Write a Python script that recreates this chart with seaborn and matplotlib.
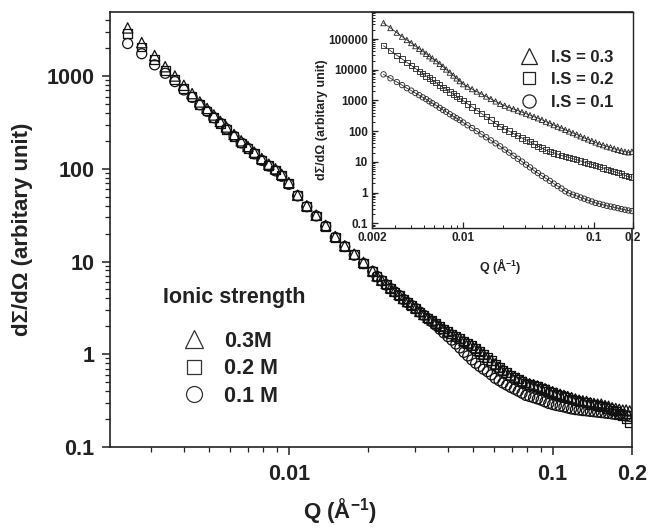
import matplotlib
matplotlib.use('Agg')
import matplotlib.pyplot as plt
from matplotlib.lines import Line2D
from matplotlib.ticker import FixedLocator, FuncFormatter, LogLocator, NullFormatter
import seaborn as sns

# Q (1/Angstrom) for the main panel
q_main = [0.00245, 0.00277, 0.0031, 0.0034, 0.0037, 0.0040, 0.0043, 0.0046, 0.0049, 0.0052,
          0.0055, 0.0058, 0.0062, 0.0066, 0.0070, 0.0074, 0.0079, 0.0084, 0.0089, 0.0094,
          0.0100, 0.0108, 0.0117, 0.0127, 0.0138, 0.0150, 0.0163, 0.0177, 0.0192, 0.0208,
          0.0216, 0.0225, 0.0234, 0.0243, 0.0252, 0.0262, 0.0272, 0.0282, 0.0292, 0.0303,
          0.0314, 0.0325, 0.0337, 0.0349, 0.0361, 0.0374, 0.0387, 0.0401, 0.0415, 0.0430,
          0.0445, 0.0461, 0.0477, 0.0494, 0.0511, 0.0529, 0.0547, 0.0566, 0.0586, 0.0606,
          0.0627, 0.0648, 0.0670, 0.0693, 0.0717, 0.0741, 0.0766, 0.0792, 0.0819, 0.0847,
          0.0876, 0.0905, 0.0936, 0.0967, 0.1000, 0.1033, 0.1068, 0.1104, 0.1141, 0.1180,
          0.1220, 0.1260, 0.1302, 0.1345, 0.1390, 0.1435, 0.1482, 0.1530, 0.1580, 0.1630,
          0.1682, 0.1735, 0.1790, 0.1845, 0.1900, 0.1960]

# main panel, dSigma/dOmega
i_03 = [3300, 2290, 1660, 1260, 1000, 794, 646, 525, 447, 380,
        324, 282, 234, 200, 174, 151, 129, 112, 100, 87,
        71, 52, 40, 31.6, 24.5, 18.6, 14.8, 12.0, 9.8, 7.9,
        7.0, 6.3, 5.8, 5.2, 4.8, 4.4, 4.0, 3.7, 3.45, 3.16,
        2.9, 2.69, 2.5, 2.34, 2.18, 2.04, 1.9, 1.78, 1.68, 1.58,
        1.5, 1.41, 1.33, 1.26, 1.18, 1.10, 1.01, 0.93, 0.86, 0.79,
        0.73, 0.68, 0.64, 0.60, 0.57, 0.55, 0.52, 0.50, 0.48, 0.47,
        0.455, 0.44, 0.425, 0.41, 0.395, 0.38, 0.37, 0.36, 0.35, 0.34,
        0.33, 0.32, 0.315, 0.31, 0.30, 0.295, 0.29, 0.29, 0.28, 0.275,
        0.265, 0.26, 0.255, 0.25, 0.25, 0.245]
i_02 = [2900, 2050, 1500, 1150, 920, 730, 600, 490, 420, 355,
        305, 265, 222, 190, 166, 145, 124, 108, 97, 84,
        69, 51, 39, 31, 24, 18.3, 14.5, 11.8, 9.6, 7.8,
        6.9, 6.2, 5.6, 5.1, 4.7, 4.3, 3.95, 3.65, 3.35, 3.1,
        2.85, 2.65, 2.45, 2.3, 2.15, 2.0, 1.87, 1.75, 1.65, 1.56,
        1.47, 1.38, 1.31, 1.24, 1.16, 1.08, 1.0, 0.92, 0.85, 0.78,
        0.72, 0.67, 0.63, 0.59, 0.56, 0.54, 0.51, 0.49, 0.475, 0.46,
        0.445, 0.43, 0.415, 0.40, 0.385, 0.37, 0.36, 0.35, 0.34, 0.33,
        0.32, 0.31, 0.305, 0.30, 0.29, 0.285, 0.28, 0.275, 0.27, 0.26,
        0.25, 0.245, 0.23, 0.22, 0.20, 0.185]
i_01 = [2240, 1740, 1320, 1070, 870, 708, 589, 490, 417, 355,
        309, 269, 224, 190, 166, 145, 123, 107, 95, 83,
        68, 51, 39, 31, 24, 18.2, 14.5, 11.7, 9.5, 7.8,
        6.9, 6.2, 5.6, 5.1, 4.7, 4.3, 3.9, 3.6, 3.35, 3.1,
        2.85, 2.63, 2.42, 2.24, 2.05, 1.86, 1.7, 1.55, 1.42, 1.29,
        1.17, 1.05, 0.96, 0.87, 0.80, 0.74, 0.69, 0.65, 0.60, 0.55,
        0.52, 0.49, 0.465, 0.44, 0.42, 0.40, 0.38, 0.36, 0.35, 0.34,
        0.33, 0.32, 0.307, 0.295, 0.287, 0.28, 0.275, 0.27, 0.263, 0.257,
        0.253, 0.25, 0.247, 0.245, 0.242, 0.24, 0.237, 0.235, 0.232, 0.23,
        0.227, 0.224, 0.221, 0.219, 0.216, 0.214]

# Q for the inset curves
q_ins = [0.00245, 0.00277, 0.0031, 0.0034, 0.0037, 0.0040, 0.0043, 0.0046, 0.0049, 0.0052,
         0.0055, 0.0058, 0.0062, 0.0066, 0.0070, 0.0074, 0.0079, 0.0084, 0.0089, 0.0094,
         0.0100, 0.0108, 0.0117, 0.0127, 0.0138, 0.0150, 0.0163, 0.0177, 0.0192, 0.0208,
         0.0225, 0.0243, 0.0262, 0.0282, 0.0303, 0.0325, 0.0349, 0.0374, 0.0401, 0.0430,
         0.0461, 0.0494, 0.0529, 0.0566, 0.0606, 0.0648, 0.0693, 0.0741, 0.0792, 0.0847,
         0.0905, 0.0967, 0.1033, 0.1104, 0.1180, 0.1260, 0.1345, 0.1435, 0.1530, 0.1630,
         0.1735, 0.1845, 0.1960]
ins_03 = [331000, 229000, 162000, 120000, 93300, 74100, 58900, 47900, 39800, 33100,
          27500, 23400, 19100, 15500, 12600, 10200, 8100, 6500, 5250, 4270,
          3390, 2820, 2340, 1950, 1620, 1350, 1120, 933, 776, 676,
          589, 525, 468, 417, 372, 331, 295, 263, 234, 204,
          182, 158, 141, 126, 110, 98, 87, 78, 68, 60,
          54, 48, 43, 38, 35, 31.6, 29.5, 26.9, 24.5, 22.9,
          21.4, 20.4, 21.4]
ins_02 = [60300, 41700, 29500, 22400, 17400, 13800, 11000, 8900, 7400, 6300,
          5370, 4570, 3800, 3160, 2690, 2290, 1910, 1620, 1380, 1170,
          977, 776, 617, 479, 372, 295, 229, 178, 141, 117,
          100, 83, 71, 60, 52, 45, 38, 32, 28, 24,
          21.4, 19.5, 17.8, 16.2, 15.1, 13.8, 12.6, 11.7, 10.7, 9.8,
          8.9, 8.3, 7.6, 6.9, 6.3, 5.75, 5.25, 4.8, 4.4, 4.0,
          3.6, 3.3, 3.2]
ins_01 = [7080, 5250, 3980, 3160, 2510, 2090, 1740, 1480, 1260, 1100,
          933, 813, 692, 575, 490, 427, 355, 302, 263, 229,
          191, 155, 126, 100, 79, 63, 50, 40, 32, 25,
          20, 15.8, 12.6, 10.2, 8.1, 6.6, 5.2, 4.3, 3.5, 2.9,
          2.4, 1.95, 1.62, 1.35, 1.10, 0.95, 0.85, 0.78, 0.69, 0.63,
          0.56, 0.51, 0.46, 0.43, 0.40, 0.37, 0.35, 0.33, 0.31, 0.29,
          0.275, 0.26, 0.25]

main_labels = ['0.3M', '0.2 M', '0.1 M']
inset_labels = ['I.S = 0.3', 'I.S = 0.2', 'I.S = 0.1']
main_xticks = [0.01, 0.1, 0.2]
main_yticks = [0.1, 1, 10, 100, 1000]
inset_xticks = [0.002, 0.01, 0.1, 0.2]
inset_yticks = [0.1, 1, 10, 100, 1000, 10000, 100000]

sns.set_style('ticks')
plt.rcParams['font.family'] = ['Liberation Sans', 'DejaVu Sans']
plt.rcParams['font.weight'] = 'bold'
plt.rcParams['axes.labelweight'] = 'bold'
plt.rcParams['mathtext.fontset'] = 'custom'
plt.rcParams['mathtext.rm'] = 'Liberation Sans:bold'
plt.rcParams['mathtext.bf'] = 'Liberation Sans:bold'
plt.rcParams['mathtext.it'] = 'Liberation Sans:bold'

fmt = FuncFormatter(lambda v, p: f'{v:g}')
markers = ['^', 's', 'o']

fig = plt.figure(figsize=(6.48, 5.28), dpi=100)
ax = fig.add_axes([110 / 648, 81 / 528, 522 / 648, 435 / 528])

# main data, open markers
for vals, m, s in [(i_01, 'o', 52), (i_03, '^', 55), (i_02, 's', 40)]:
    sns.scatterplot(x=q_main, y=vals, ax=ax, marker=m, s=s, facecolors='none',
                    edgecolor='#111111', linewidth=0.9, zorder=3)

ax.set_xscale('log')
ax.set_yscale('log')
ax.set_xlim(0.0021, 0.2)
ax.set_ylim(0.1, 4900)
ax.xaxis.set_major_locator(FixedLocator(main_xticks))
ax.yaxis.set_major_locator(FixedLocator(main_yticks))
ax.xaxis.set_major_formatter(fmt)
ax.yaxis.set_major_formatter(fmt)
ax.xaxis.set_minor_locator(LogLocator(base=10, subs=range(2, 10), numticks=20))
ax.yaxis.set_minor_locator(LogLocator(base=10, subs=range(2, 10), numticks=20))
ax.xaxis.set_minor_formatter(NullFormatter())
ax.yaxis.set_minor_formatter(NullFormatter())
ax.tick_params(which='major', direction='out', length=6, width=1.1, labelsize=15.5, colors='#222222')
ax.tick_params(axis='x', which='major', pad=6)
ax.tick_params(axis='y', which='major', pad=5)
ax.tick_params(which='minor', direction='out', length=3.5, width=0.9, colors='#222222')
for sp in ax.spines.values():
    sp.set_linewidth(1.2)
    sp.set_color('#222222')

ax.set_xlabel(r'Q (Å$^{-1}$)', fontsize=16, color='#222222')
ax.set_ylabel('dΣ/dΩ (arbitary unit)', fontsize=16, color='#222222')
ax.xaxis.set_label_coords(0.44, -0.112)
ax.yaxis.set_label_coords(-0.148, 0.5)

fig.text(163 / 648, 1 - 298 / 528, 'Ionic strength', fontsize=15.5, fontweight='bold',
         ha='left', va='center', color='#222222')
h_main = [Line2D([], [], ls='none', marker='^', ms=12.5, mfc='none', mec='#333333', mew=0.9),
          Line2D([], [], ls='none', marker='s', ms=9.5, mfc='none', mec='#333333', mew=0.9),
          Line2D([], [], ls='none', marker='o', ms=11.5, mfc='none', mec='#333333', mew=0.9)]
leg = ax.legend(h_main, main_labels, loc='upper left', bbox_to_anchor=(183 / 648, 1 - 331 / 528),
                bbox_transform=fig.transFigure, frameon=False, fontsize=15.5, handlelength=1.0,
                handletextpad=0.9, labelspacing=0.3, borderpad=0, borderaxespad=0)
for t in leg.get_texts():
    t.set_fontweight('bold')
    t.set_color('#222222')

# inset
ins = fig.add_axes([372 / 648, 300 / 528, 261 / 648, 216 / 528])
ins.set_facecolor('white')
for vals in [ins_03, ins_02, ins_01]:
    sns.lineplot(x=q_ins, y=vals, ax=ins, color='#333333', linewidth=0.6, zorder=2)
for vals, m in zip([ins_03, ins_02, ins_01], markers):
    sns.scatterplot(x=q_ins, y=vals, ax=ins, marker=m, s=15, facecolors='none',
                    edgecolor='#222222', linewidth=0.6, zorder=3)

ins.set_xscale('log')
ins.set_yscale('log')
ins.set_xlim(0.002, 0.2)
ins.set_ylim(0.07, 760000)
ins.xaxis.set_major_locator(FixedLocator(inset_xticks))
ins.yaxis.set_major_locator(FixedLocator(inset_yticks))
ins.xaxis.set_major_formatter(fmt)
ins.yaxis.set_major_formatter(fmt)
ins.xaxis.set_minor_locator(LogLocator(base=10, subs=range(2, 10), numticks=20))
ins.yaxis.set_minor_locator(LogLocator(base=10, subs=range(2, 10), numticks=20))
ins.xaxis.set_minor_formatter(NullFormatter())
ins.yaxis.set_minor_formatter(NullFormatter())
ins.tick_params(which='major', direction='in', length=4, width=0.9, labelsize=8.5, pad=3, colors='#222222')
ins.tick_params(which='minor', direction='in', length=2, width=0.7, colors='#222222')
for sp in ins.spines.values():
    sp.set_linewidth(1.0)
    sp.set_color('#222222')

ins.set_xlabel(r'Q (Å$^{-1}$)', fontsize=9, color='#222222')
ins.set_ylabel('dΣ/dΩ (arbitary unit)', fontsize=9, color='#222222')
ins.xaxis.set_label_coords(0.49, -0.13)
ins.yaxis.set_label_coords(-0.17, 0.5)

h_ins = [Line2D([], [], ls='none', marker='^', ms=11.5, mfc='none', mec='#222222', mew=0.9),
         Line2D([], [], ls='none', marker='s', ms=8.5, mfc='none', mec='#222222', mew=0.9),
         Line2D([], [], ls='none', marker='o', ms=9.5, mfc='none', mec='#222222', mew=0.9)]
leg2 = ins.legend(h_ins, inset_labels, loc='upper left', bbox_to_anchor=(521 / 648, 1 - 50 / 528),
                  bbox_transform=fig.transFigure, frameon=False, fontsize=12, handlelength=1.0,
                  handletextpad=0.8, labelspacing=0.44, borderpad=0, borderaxespad=0)
for t in leg2.get_texts():
    t.set_fontweight('bold')
    t.set_color('#222222')

fig.savefig('out.png', dpi=100)
